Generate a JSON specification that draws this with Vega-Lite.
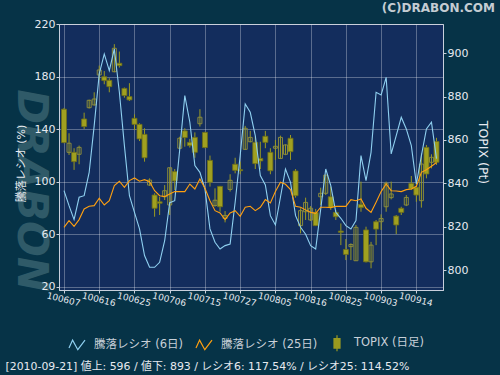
{
  "$schema": "https://vega.github.io/schema/vega-lite/v6.json",
  "width": 384,
  "height": 266,
  "autosize": {"type": "none"},
  "padding": {"left": 59, "top": 24, "right": 57, "bottom": 85},
  "background": "#063347",
  "config": {
    "view": {"fill": "#132d5d", "stroke": "#b4bccc", "strokeWidth": 1},
    "font": "DejaVu Sans, Noto Sans CJK JP",
    "axis": {
      "labelColor": "#e6eaf0",
      "titleColor": "#e6eaf0",
      "domainColor": "#c8d0dc",
      "tickColor": "#c8d0dc",
      "gridColor": "#ffffff",
      "gridOpacity": 0.3,
      "labelFont": "DejaVu Sans, Noto Sans CJK JP",
      "titleFont": "DejaVu Sans, Noto Sans CJK JP",
      "titleFontWeight": "normal",
      "tickSize": 3,
      "labelFontSize": 11
    },
    "axisX": {"labelOverlap": false, "labelFlush": false}
  },
  "title": {
    "text": "(C)DRABON.COM",
    "anchor": "end",
    "frame": "group",
    "dx": 52,
    "offset": -6,
    "baseline": "alphabetic",
    "fontSize": 12,
    "fontWeight": "bold",
    "color": "#c4ccd2",
    "font": "DejaVu Sans"
  },
  "data": {
    "values": [
      {"i":0,"date":"2010-06-07","r6":93.1,"r25":65.2,"o":874.2,"h":874.8,"l":858.5,"c":858.8},
      {"i":1,"date":"2010-06-08","r6":81.7,"r25":70.3,"o":854.3,"h":863.1,"l":853.1,"c":858.5},
      {"i":2,"date":"2010-06-09","r6":71.1,"r25":66.0,"o":854.3,"h":856.2,"l":846.2,"c":850.0},
      {"i":3,"date":"2010-06-10","r6":88.1,"r25":71.1,"o":853.4,"h":857.4,"l":848.8,"c":856.6},
      {"i":4,"date":"2010-06-11","r6":89.3,"r25":79.2,"o":869.7,"h":872.6,"l":865.1,"c":866.2},
      {"i":5,"date":"2010-06-14","r6":107.1,"r25":81.2,"o":874.9,"h":878.6,"l":874.5,"c":878.3},
      {"i":6,"date":"2010-06-15","r6":142.6,"r25":81.7,"o":876.2,"h":882.0,"l":875.8,"c":878.9},
      {"i":7,"date":"2010-06-16","r6":182.0,"r25":87.3,"o":890.0,"h":894.3,"l":887.7,"c":892.3},
      {"i":8,"date":"2010-06-17","r6":197.2,"r25":82.2,"o":889.2,"h":891.8,"l":885.7,"c":887.4},
      {"i":9,"date":"2010-06-18","r6":184.5,"r25":85.5,"o":887.5,"h":888.5,"l":882.0,"c":884.6},
      {"i":10,"date":"2010-06-21","r6":201.0,"r25":97.0,"o":891.5,"h":904.2,"l":891.2,"c":902.3},
      {"i":11,"date":"2010-06-22","r6":168.0,"r25":100.3,"o":895.4,"h":900.8,"l":893.4,"c":894.3},
      {"i":12,"date":"2010-06-23","r6":127.4,"r25":95.7,"o":883.8,"h":884.2,"l":879.5,"c":880.5},
      {"i":13,"date":"2010-06-24","r6":89.3,"r25":100.8,"o":880.0,"h":886.2,"l":878.0,"c":878.5},
      {"i":14,"date":"2010-06-25","r6":76.6,"r25":102.8,"o":870.0,"h":871.8,"l":864.6,"c":867.2},
      {"i":15,"date":"2010-06-28","r6":64.0,"r25":100.3,"o":867.2,"h":867.7,"l":859.5,"c":860.5},
      {"i":16,"date":"2010-06-29","r6":43.7,"r25":101.5,"o":862.6,"h":865.4,"l":850.0,"c":851.8},
      {"i":17,"date":"2010-06-30","r6":34.8,"r25":100.0,"o":839.2,"h":842.3,"l":838.8,"c":841.5},
      {"i":18,"date":"2010-07-01","r6":34.8,"r25":93.1,"o":834.6,"h":835.4,"l":824.6,"c":828.5},
      {"i":19,"date":"2010-07-02","r6":38.6,"r25":89.3,"o":831.5,"h":833.8,"l":825.4,"c":830.8},
      {"i":20,"date":"2010-07-05","r6":55.0,"r25":88.6,"o":833.8,"h":839.2,"l":832.3,"c":836.6},
      {"i":21,"date":"2010-07-06","r6":84.0,"r25":90.6,"o":830.0,"h":847.2,"l":825.4,"c":847.2},
      {"i":22,"date":"2010-07-07","r6":85.5,"r25":92.4,"o":845.4,"h":846.6,"l":836.9,"c":841.1},
      {"i":23,"date":"2010-07-08","r6":124.9,"r25":92.4,"o":856.2,"h":861.5,"l":855.8,"c":860.8},
      {"i":24,"date":"2010-07-09","r6":165.5,"r25":92.4,"o":864.2,"h":865.4,"l":856.9,"c":861.1},
      {"i":25,"date":"2010-07-12","r6":145.2,"r25":98.2,"o":858.9,"h":860.5,"l":856.5,"c":857.4},
      {"i":26,"date":"2010-07-13","r6":112.2,"r25":94.4,"o":861.2,"h":863.5,"l":851.8,"c":854.3},
      {"i":27,"date":"2010-07-14","r6":107.1,"r25":102.0,"o":867.5,"h":874.2,"l":866.2,"c":870.5},
      {"i":28,"date":"2010-07-15","r6":94.4,"r25":94.9,"o":863.5,"h":863.8,"l":856.2,"c":856.5},
      {"i":29,"date":"2010-07-16","r6":64.0,"r25":85.5,"o":850.6,"h":852.8,"l":838.5,"c":840.5},
      {"i":30,"date":"2010-07-20","r6":53.8,"r25":77.9,"o":829.8,"h":837.7,"l":829.2,"c":832.2},
      {"i":31,"date":"2010-07-21","r6":48.7,"r25":76.1,"o":838.6,"h":838.8,"l":826.9,"c":829.2},
      {"i":32,"date":"2010-07-22","r6":51.3,"r25":71.1,"o":823.8,"h":827.2,"l":822.0,"c":825.2},
      {"i":33,"date":"2010-07-23","r6":52.5,"r25":76.1,"o":837.2,"h":844.2,"l":836.2,"c":841.4},
      {"i":34,"date":"2010-07-26","r6":84.3,"r25":77.9,"o":848.8,"h":851.8,"l":844.6,"c":846.0},
      {"i":35,"date":"2010-07-27","r6":119.8,"r25":73.6,"o":846.3,"h":850.0,"l":844.2,"c":845.8},
      {"i":36,"date":"2010-07-28","r6":159.1,"r25":80.5,"o":855.7,"h":866.5,"l":855.4,"c":865.4},
      {"i":37,"date":"2010-07-29","r6":152.8,"r25":81.2,"o":859.2,"h":864.2,"l":858.9,"c":861.2},
      {"i":38,"date":"2010-07-30","r6":135.0,"r25":77.9,"o":858.9,"h":861.5,"l":846.6,"c":849.1},
      {"i":39,"date":"2010-08-02","r6":104.6,"r25":80.5,"o":851.5,"h":859.2,"l":846.6,"c":850.3},
      {"i":40,"date":"2010-08-03","r6":97.5,"r25":86.3,"o":861.7,"h":864.2,"l":856.2,"c":858.9},
      {"i":41,"date":"2010-08-04","r6":74.1,"r25":83.8,"o":854.3,"h":856.2,"l":844.2,"c":845.8},
      {"i":42,"date":"2010-08-05","r6":67.0,"r25":92.4,"o":856.2,"h":860.0,"l":850.8,"c":857.1},
      {"i":43,"date":"2010-08-06","r6":88.1,"r25":99.5,"o":851.5,"h":862.0,"l":851.2,"c":861.2},
      {"i":44,"date":"2010-08-09","r6":109.6,"r25":98.0,"o":853.4,"h":858.0,"l":853.0,"c":857.7},
      {"i":45,"date":"2010-08-10","r6":99.5,"r25":93.9,"o":860.8,"h":862.3,"l":850.8,"c":854.6},
      {"i":46,"date":"2010-08-11","r6":74.1,"r25":81.2,"o":845.7,"h":846.6,"l":833.4,"c":834.3},
      {"i":47,"date":"2010-08-12","r6":65.2,"r25":80.5,"o":820.5,"h":828.5,"l":816.9,"c":827.4},
      {"i":48,"date":"2010-08-13","r6":60.0,"r25":78.5,"o":826.9,"h":833.4,"l":823.1,"c":831.2},
      {"i":49,"date":"2010-08-16","r6":51.3,"r25":76.6,"o":823.1,"h":829.5,"l":822.6,"c":828.5},
      {"i":50,"date":"2010-08-17","r6":48.7,"r25":75.9,"o":826.6,"h":828.2,"l":820.3,"c":820.5},
      {"i":51,"date":"2010-08-18","r6":79.2,"r25":80.5,"o":833.8,"h":838.0,"l":830.0,"c":835.4},
      {"i":52,"date":"2010-08-19","r6":109.6,"r25":80.5,"o":835.4,"h":843.8,"l":834.6,"c":843.8},
      {"i":53,"date":"2010-08-20","r6":97.0,"r25":80.2,"o":833.8,"h":838.5,"l":827.7,"c":828.9},
      {"i":54,"date":"2010-08-23","r6":76.6,"r25":81.2,"o":826.6,"h":827.7,"l":823.1,"c":824.6},
      {"i":55,"date":"2010-08-24","r6":72.1,"r25":81.2,"o":818.0,"h":821.5,"l":811.5,"c":817.4},
      {"i":56,"date":"2010-08-25","r6":66.5,"r25":81.2,"o":809.5,"h":814.3,"l":804.6,"c":807.2},
      {"i":57,"date":"2010-08-26","r6":64.0,"r25":86.3,"o":810.8,"h":812.3,"l":804.6,"c":811.8},
      {"i":58,"date":"2010-08-27","r6":70.3,"r25":85.5,"o":804.3,"h":820.8,"l":804.3,"c":819.7},
      {"i":59,"date":"2010-08-30","r6":119.8,"r25":86.8,"o":830.3,"h":840.8,"l":826.9,"c":828.8},
      {"i":60,"date":"2010-08-31","r6":100.8,"r25":79.7,"o":818.5,"h":820.0,"l":803.5,"c":803.8},
      {"i":61,"date":"2010-09-01","r6":122.3,"r25":76.6,"o":803.8,"h":813.0,"l":800.8,"c":811.5},
      {"i":62,"date":"2010-09-02","r6":168.0,"r25":84.3,"o":822.3,"h":823.1,"l":811.5,"c":818.9},
      {"i":63,"date":"2010-09-03","r6":166.0,"r25":92.4,"o":822.3,"h":825.7,"l":818.5,"c":823.8},
      {"i":64,"date":"2010-09-06","r6":179.4,"r25":98.2,"o":829.2,"h":840.8,"l":826.9,"c":840.0},
      {"i":65,"date":"2010-09-07","r6":121.1,"r25":93.1,"o":833.4,"h":840.8,"l":832.6,"c":835.1},
      {"i":66,"date":"2010-09-08","r6":135.0,"r25":92.9,"o":824.9,"h":825.4,"l":816.6,"c":820.8},
      {"i":67,"date":"2010-09-09","r6":149.0,"r25":92.4,"o":828.5,"h":829.2,"l":825.4,"c":826.6},
      {"i":68,"date":"2010-09-10","r6":140.1,"r25":93.9,"o":830.0,"h":834.6,"l":829.5,"c":833.5},
      {"i":69,"date":"2010-09-13","r6":127.4,"r25":94.4,"o":840.0,"h":843.4,"l":836.9,"c":837.4},
      {"i":70,"date":"2010-09-14","r6":98.2,"r25":96.4,"o":838.2,"h":840.8,"l":831.5,"c":834.6},
      {"i":71,"date":"2010-09-15","r6":119.8,"r25":107.1,"o":832.0,"h":853.8,"l":828.8,"c":848.9},
      {"i":72,"date":"2010-09-16","r6":140.1,"r25":109.1,"o":856.6,"h":857.7,"l":842.3,"c":844.3},
      {"i":73,"date":"2010-09-17","r6":145.2,"r25":111.7,"o":849.7,"h":853.4,"l":846.9,"c":852.0},
      {"i":74,"date":"2010-09-21","r6":117.54,"r25":114.52,"o":859.3,"h":861.0,"l":848.5,"c":849.7}
    ]
  },
  "encoding": {
    "x": {"field": "i", "type": "quantitative", "scale": {"domain": [0, 74.3], "nice": false, "zero": false},
      "axis": {
        "values": [0, 7, 14, 21, 28, 35, 42, 49, 56, 63, 70],
        "labelExpr": "['100607','100616','100625','100706','100715','100727','100805','100816','100825','100903','100914'][round(datum.value/7)]",
        "labelAngle": 14,
        "labelAlign": "center",
        "labelBaseline": "top",
        "labelFontSize": 9,
        "labelPadding": 2,
        "labelOverlap": false,
        "labelFlush": false,
        "grid": true,
        "title": "[2010-09-21]  値上: 596 / 値下: 893 / レシオ6: 117.54% / レシオ25: 114.52%",
        "titleX": -54,
        "titleY": 76,
        "titleAlign": "left",
        "titleBaseline": "middle",
        "titleAngle": 0,
        "titleFontSize": 10.9,
        "titleColor": "#e6eaf0"
      }
    }
  },
  "layer": [
    {
      "mark": {"type": "point", "opacity": 0},
      "encoding": {
        "y": {"field": "r6", "type": "quantitative",
          "axis": {
            "orient": "left",
            "title": "DRABON",
            "labels": false,
            "ticks": false,
            "domain": false,
            "grid": false,
            "titleFontSize": 42,
            "titleFontStyle": "italic",
            "titleFontWeight": "bold",
            "titleFont": "DejaVu Sans",
            "titleColor": "#2f5a68",
            "titleAngle": 90,
            "titleX": -29,
            "titleY": 166,
            "titleAlign": "center",
            "titleBaseline": "middle"
          }
        }
      }
    },
    {
      "layer": [
        {
          "mark": {"type": "rule", "strokeWidth": 1, "clip": true},
          "encoding": {
            "y": {"field": "l", "type": "quantitative",
              "scale": {"domain": [790.8, 913.5], "nice": false, "zero": false},
              "axis": {
                "orient": "right",
                "values": [800, 820, 840, 860, 880, 900],
                "grid": false,
                "labelPadding": 1,
                "title": "TOPIX (Pt)",
                "titleFontSize": 12.5,
                "titleAngle": 90,
                "titleX": 39,
                "titleY": 128,
                "titleAlign": "center",
                "titleBaseline": "middle"
              }
            },
            "y2": {"field": "h"},
            "color": {
              "datum": "TOPIX (日足)",
              "scale": {
                "domain": ["騰落レシオ (6日)", "騰落レシオ (25日)", "TOPIX (日足)"],
                "range": ["#8fd0f0", "#ffa010", "#9a9a22"]
              },
              "legend": {
                "orient": "none",
                "legendX": 9,
                "legendY": 310,
                "direction": "horizontal",
                "title": null,
                "padding": 0,
                "labelFontSize": 11.5,
                "labelColor": "#c8d0d8",
                "labelFont": "DejaVu Sans, Noto Sans CJK JP",
                "labelOffset": 8,
                "columnPadding": 10,
                "symbolSize": 256,
                "encode": {
                  "symbols": {
                    "update": {
                      "shape": {"signal": "datum.value === 'TOPIX (日足)' ? 'M0,-1L0,-0.6M-0.375,-0.6L0.375,-0.6L0.375,0.6L-0.375,0.6ZM0,0.6L0,1' : 'M-1,0.4L-0.55,-0.6L0.1,0.6L1,-0.6'"},
                      "fill": {"signal": "datum.value === 'TOPIX (日足)' ? '#9a9a1e' : 'transparent'"},
                      "stroke": {"signal": "datum.value === 'TOPIX (日足)' ? '#c0c038' : (datum.value === '騰落レシオ (6日)' ? '#8fd0f0' : '#ffa010')"},
                      "strokeWidth": {"value": 1.2},
                      "opacity": {"value": 1}
                    }
                  }
                }
              }
            }
          }
        },
        {
          "transform": [{"filter": "datum.c < datum.o"}],
          "mark": {"type": "bar", "width": 5, "fill": "#a0a020", "stroke": "#6e6e18", "strokeWidth": 0.8, "clip": true},
          "encoding": {
            "y": {"field": "o", "type": "quantitative"},
            "y2": {"field": "c"}
          }
        },
        {
          "transform": [{"filter": "datum.c >= datum.o"}],
          "mark": {"type": "bar", "width": 4, "filled": false, "fill": "transparent", "stroke": "#8c8c3c", "strokeWidth": 1, "clip": true},
          "encoding": {
            "y": {"field": "o", "type": "quantitative"},
            "y2": {"field": "c"}
          }
        }
      ]
    },
    {
      "layer": [
        {
          "mark": {"type": "line", "strokeWidth": 1.1, "clip": true},
          "encoding": {
            "y": {"field": "r6", "type": "quantitative",
              "scale": {"domain": [17.5, 220], "nice": false, "zero": false},
              "axis": {
                "orient": "left",
                "values": [20, 40, 60, 80, 100, 120, 140, 160, 180, 200, 220],
                "grid": true,
                "labelPadding": 1,
                "title": "騰落レシオ (%)",
                "titleFontSize": 11,
                "titleAngle": 270,
                "titleX": -38,
                "titleY": 139,
                "titleAlign": "center",
                "titleBaseline": "middle"
              }
            },
            "color": {"datum": "騰落レシオ (6日)"}
          }
        },
        {
          "mark": {"type": "line", "strokeWidth": 1.1, "clip": true},
          "encoding": {
            "y": {"field": "r25", "type": "quantitative"},
            "color": {"datum": "騰落レシオ (25日)"}
          }
        }
      ]
    }
  ],
  "resolve": {"scale": {"y": "independent"}}
}
